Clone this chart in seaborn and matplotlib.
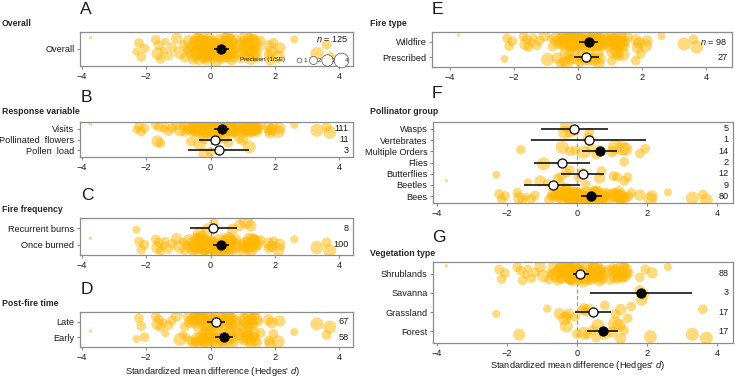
import numpy as np
import pandas as pd
import matplotlib
matplotlib.use("Agg")
import matplotlib.pyplot as plt
from matplotlib.lines import Line2D
from matplotlib.transforms import blended_transform_factory
import seaborn as sns

sns.set_theme(style="white")
plt.rcParams['font.family'] = ['Liberation Sans', 'DejaVu Sans']
plt.rcParams['mathtext.fontset'] = 'custom'
plt.rcParams['mathtext.it'] = 'Liberation Sans:italic'
plt.rcParams['mathtext.rm'] = 'Liberation Sans'

# ---- individual effect sizes (Hedges' d) and precision (1/SE) ----
d = [-3.73, -2.30, -2.22, -2.15, -2.05, -1.70, -1.65, -1.60, -1.55, -1.45,
     -1.40, -1.30, -1.20, -1.05, -0.95, -0.85, -0.80, -0.75, -0.68, -0.62,
     -0.58, -0.55, -0.50, -0.48, -0.45, -0.45, -0.42, -0.40, -0.38, -0.35,
     -0.33, -0.30, -0.30, -0.30, -0.28, -0.25, -0.22, -0.20, -0.20, -0.20,
     -0.18, -0.15, -0.12, -0.10, -0.08, -0.05, -0.05, -0.03, 0.00, 0.02,
     0.05, 0.08, 0.10, 0.12, 0.15, 0.18, 0.20, 0.20, 0.22, 0.25,
     0.28, 0.30, 0.33, 0.35, 0.38, 0.40, 0.42, 0.45, 0.48, 0.50,
     0.52, 0.55, 0.58, 0.60, 0.63, 0.65, 0.65, 0.68, 0.70, 0.72,
     0.78, 0.80, 0.80, 0.90, 0.95, 1.00, 1.02, 1.05, 1.08, 1.10,
     1.10, 1.12, 1.15, 1.18, 1.20, 1.22, 1.25, 1.25, 1.28, 1.30,
     1.32, 1.35, 1.35, 1.38, 1.40, 1.45, 1.48, 1.55, 1.80, 1.80,
     1.85, 1.90, 1.95, 2.10, 2.15, 2.60, 3.30, 3.60, 3.70, -0.65,
     -0.35, -0.15, 0.10, 0.55, 0.35]
precision = [0.6, 2.0, 2.5, 2.5, 2.5, 2.5, 3.2, 2.5, 2.5, 2.0,
             2.0, 2.5, 2.5, 3.0, 3.5, 2.0, 2.5, 2.0, 3.0, 2.5,
             3.0, 2.5, 3.0, 3.5, 2.5, 2.0, 3.5, 4.0, 3.0, 3.5,
             3.0, 3.5, 2.5, 2.5, 4.0, 3.0, 3.5, 3.0, 2.5, 2.5,
             4.0, 3.5, 3.0, 3.0, 3.5, 2.5, 2.5, 3.0, 2.5, 3.5,
             2.5, 3.0, 2.5, 3.0, 2.5, 3.5, 3.5, 2.5, 3.0, 2.5,
             3.0, 2.5, 3.0, 2.5, 3.0, 2.5, 3.5, 2.5, 3.0, 3.5,
             4.0, 2.5, 3.0, 3.5, 3.0, 2.5, 3.0, 3.0, 2.5, 3.0,
             3.0, 2.5, 3.0, 3.0, 2.5, 3.0, 2.5, 2.5, 3.5, 4.0,
             2.5, 3.0, 2.5, 3.5, 3.5, 3.0, 3.0, 3.0, 3.0, 4.0,
             2.5, 2.5, 2.5, 3.0, 3.5, 2.5, 2.5, 2.5, 2.5, 3.0,
             3.0, 3.0, 2.5, 3.5, 3.0, 2.0, 3.5, 2.5, 3.5, 3.0,
             4.0, 3.5, 3.5, 3.5, 3.5]

# moderator codes per effect size
response = list("VVVVVVFVFV" "VVVVVVVVVF" "VVVVVVVVVF" "VVVVVVVPFV" "VVVVVVVVPV"
                "VVFVVVVVVF" "VVVVVVVFVV" "VFVVVVVVVV" "VVVFVFVVVV" "VVVVPVVVVV"
                "VVVVVVVVVV" "VVVVVVVVVV" "VVVVV")
frequency = list("OROOOOOOOO" "OOOOOOOOOO" "OOONOOOOOR" "OOOOOONOOO" "OONROOONOO"
                 "ONROOOONOO" "OONOOOOONO" "OONOOOORON" "OOOROONOOR" "ONOOONROOO"
                 "NOOOONOOOO" "NOOOOOOOON" "OOOOO")
time = list("EELLELLLLL" "ELLLEELELE" "LELLELLELL" "ELELLELELE" "LELELELELE"
            "LELELELELE" "LELELELELE" "LELELELELE" "LELELELELE" "LELELELELE"
            "LELELELEEL" "ELEELELELL" "LELLE")
fire = list("WPWWWWWWWW" "WWWWPWWWWW" "WPWWPWWWWP" "WWWPWPWWWW" "WWWPWWWWWW"
            "PWWWWWPWWP" "WWWWPWWWWP" "WWWPWWPPWW" "WWWWWWWPWP" "WWWWPWPWWW"
            "WWWWPWWWPW" "WWPWWWWWWP" "PWPWP")
pollinator = list("BUEEEEEMEE" "BEEBYBEEEB" "EUEEUBMEEA" "EABUEEEAMU" "EEEEEAMEEE"
                  "UEEEUEMEEB" "EETAEMEEEE" "EMEEEMUEUE" "EEEEEMEUEM" "EEUEEEEEEM"
                  "EYBEMUEEME" "NNMEEEEEEE" "EEEEE")
vegetation = list("SGSSSSFSSS" "SSSSSGSSSS" "SSGSSSSSSG" "SFGSSGSSSS" "SSSSSGSSFS"
                  "SSSSGSFGSG" "SFGSSSSFSS" "SFSFSSSSSS" "SGFSSFSSSF" "GSSSFSGFSS"
                  "SFSSSGSGSV" "VVSFSSFGFS" "SSSSS")

# ---- model estimates (mean, 95% CI) ----
overall_est, overall_lo, overall_hi = [0.33], [0.10], [0.57]
resp_labels = ["Visits", "Pollinated  flowers", "Pollen  load"]
resp_est = [0.35, 0.13, 0.25]
resp_lo = [0.12, -0.35, -0.70]
resp_hi = [0.58, 0.68, 1.20]
resp_n = [111, 11, 3]
freq_labels = ["Recurrent burns", "Once burned"]
freq_est = [0.08, 0.32]
freq_lo = [-0.65, 0.08]
freq_hi = [0.82, 0.58]
freq_n = [8, 100]
time_labels = ["Late", "Early"]
time_est = [0.17, 0.43]
time_lo = [-0.10, 0.15]
time_hi = [0.45, 0.70]
time_n = [67, 58]
fire_labels = ["Wildfire", "Prescribed"]
fire_est = [0.35, 0.25]
fire_lo = [0.04, -0.13]
fire_hi = [0.63, 0.66]
fire_n = [98, 27]
poll_labels = ["Wasps", "Vertebrates", "Multiple Orders", "Flies", "Butterflies", "Beetles", "Bees"]
poll_est = [-0.08, 0.34, 0.66, -0.43, 0.17, -0.69, 0.40]
poll_lo = [-1.03, -1.31, 0.14, -1.23, -0.45, -1.50, 0.12]
poll_hi = [0.90, 1.98, 1.14, 0.37, 0.77, 0.09, 0.71]
poll_n = [5, 1, 14, 2, 12, 9, 80]
veg_labels = ["Shrublands", "Savanna", "Grassland", "Forest"]
veg_est = [0.09, 1.83, 0.46, 0.74]
veg_lo = [-0.11, 0.37, -0.06, 0.29]
veg_hi = [0.34, 3.29, 0.97, 1.17]
veg_n = [88, 3, 17, 17]
legend_prec = [1, 2, 3, 4]

df = pd.DataFrame({"d": d, "prec": precision, "resp": response, "freq": frequency,
                   "time": time, "fire": fire, "poll": pollinator, "veg": vegetation,
                   "all": ["A"] * len(d)})


def diam(p):
    # marker diameter in points for a given precision
    return 0.72 * (3.3 * p + 1.5)


df["area"] = diam(df["prec"]) ** 2
df["jit"] = ((np.arange(len(df)) * 0.618034) % 1 - 0.5) * 0.8

GOLD = "#FFB600"
SPINE = "#8c8c8c"
FS = 6.6
W, H = 735, 377

fig = plt.figure(figsize=(W / 100, H / 100), dpi=100)


def box(x0, y0, x1, y1):
    return [x0 / W, 1 - y1 / H, (x1 - x0) / W, (y1 - y0) / H]


def panel(rect, col, codes, labels, est, lo, hi, sig, counts, xlim):
    ax = fig.add_axes(rect)
    pos = {c: i for i, c in enumerate(codes)}
    sub = df[df[col].isin(codes)].copy()
    sub["y"] = sub[col].map(pos) + sub["jit"]
    ax.axvline(0, color="#9a9a9a", ls=(0, (3, 2)), lw=0.9, zorder=1)
    sns.scatterplot(data=sub, x="d", y="y", color=GOLD, alpha=0.5, linewidth=0,
                    s=sub["area"].to_numpy(), legend=False, ax=ax, zorder=2)
    ys = np.arange(len(codes))
    ax.hlines(ys, lo, hi, color="black", lw=1.1, zorder=3)
    for y, e, s in zip(ys, est, sig):
        ax.plot(e, y, "o", ms=6.5, mfc="black" if s else "white", mec="black",
                mew=0.9, zorder=4)
    ax.set_xlim(*xlim)
    ax.set_ylim(len(codes) - 1 + 0.6, -0.6)
    ax.set_yticks(ys)
    ax.set_yticklabels(labels)
    ax.set_xticks([-4, -2, 0, 2, 4])
    ax.set_xticklabels(["\u22124", "\u22122", "0", "2", "4"])
    ax.set_xlabel("")
    ax.set_ylabel("")
    for sp in ax.spines.values():
        sp.set_color(SPINE)
        sp.set_linewidth(0.9)
    ax.tick_params(axis="both", length=2.5, width=0.8, color=SPINE, labelsize=FS,
                   labelcolor="#1a1a1a", pad=1.5, left=True, bottom=True)
    tr = blended_transform_factory(ax.transAxes, ax.transData)
    if counts is not None:
        for y, c in zip(ys, counts):
            ax.text(1 - 4.5 / (rect[2] * W), y, c, transform=tr, ha="right",
                    va="center", fontsize=FS, color="#1a1a1a")
    return ax


LX = (-4.05, 4.42)
axA = panel(box(80, 32, 353, 66), "all", ["A"], ["Overall"], overall_est, overall_lo,
            overall_hi, [True], None, LX)
axA.text(1 - 4.5 / 273, 0.8, "$n$ = 125", transform=axA.transAxes, ha="right",
         va="center", fontsize=FS, color="#1a1a1a")
handles = [Line2D([], [], ls="", marker="o", mfc="white", mec="#555555", mew=0.5,
                  ms=diam(p)) for p in legend_prec]
leg = axA.legend(handles, [str(p) for p in legend_prec], ncol=4, loc="lower right",
                 bbox_to_anchor=(1.0, -0.04), frameon=False, fontsize=4.5,
                 handletextpad=0.0, columnspacing=0.25, handlelength=1.4, borderpad=0.2)
leg.set_zorder(5)
axA.text(0.585, 0.18, "Precision (1/SE)", transform=axA.transAxes, ha="left",
         va="center", fontsize=4.5, color="#1a1a1a", zorder=5)

panel(box(80, 122, 353, 157), "resp", ["V", "F", "P"], resp_labels, resp_est, resp_lo,
      resp_hi, [True, False, False], resp_n, LX)
panel(box(80, 218, 353, 255), "freq", ["R", "O"], freq_labels, freq_est, freq_lo,
      freq_hi, [False, True], freq_n, LX)
panel(box(80, 312, 353, 347), "time", ["L", "E"], time_labels, time_est, time_lo,
      time_hi, [False, True], time_n, LX)
panel(box(432, 32, 732, 67), "fire", ["W", "P"], fire_labels, fire_est, fire_lo,
      fire_hi, [True, False], ["$n$ = 98", 27], (-4.56, 4.8))
panel(box(433, 122, 733, 203), "poll", ["A", "T", "M", "Y", "U", "B", "E"], poll_labels,
      poll_est, poll_lo, poll_hi, [False, False, True, False, False, False, True],
      poll_n, (-4.11, 4.46))
panel(box(433, 262, 733, 343), "veg", ["S", "V", "G", "F"], veg_labels, veg_est,
      veg_lo, veg_hi, [False, True, False, True], veg_n, (-4.11, 4.46))


def ftext(x, y, s, **kw):
    fig.text(x / W, 1 - y / H, s, **kw)


for x, y, s in [(80, 10, "A"), (81, 97, "B"), (81, 196, "C"), (81, 289, "D"),
                (432, 10, "E"), (432, 94, "F"), (432, 238, "G")]:
    ftext(x, y, s, fontsize=12.5, ha="left", va="center", color="#1a1a1a")
for x, y, s in [(2, 23, "Overall"), (2, 111, "Response variable"), (2, 210, "Fire frequency"),
                (2, 304, "Post-fire time"), (370, 23, "Fire type"),
                (370, 111, "Pollinator group"), (370, 253, "Vegetation type")]:
    ftext(x, y, s, fontsize=6.3, fontweight="bold", ha="left", va="center")
ftext(213, 371, "Standardized mean difference (Hedges' $d$)", fontsize=6.7, ha="center",
      va="center", color="#1a1a1a")
ftext(578, 366, "Standardized mean difference (Hedges' $d$)", fontsize=6.7, ha="center",
      va="center", color="#1a1a1a")

fig.savefig("out.png", dpi=100)
